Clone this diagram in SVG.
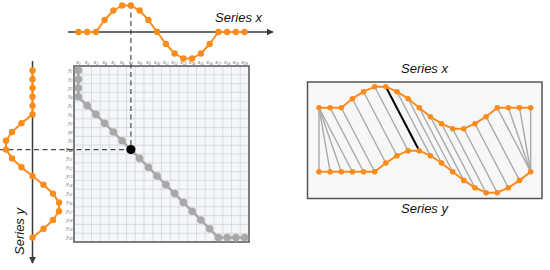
<svg xmlns="http://www.w3.org/2000/svg" width="550" height="270" viewBox="0 0 550 270">
<style>
.ser{fill:none;stroke:#fb8c1c;stroke-width:2;stroke-linejoin:round}
.od{fill:#fb8c1c}
.ax{stroke:#3a3a3a;stroke-width:1.5;fill:none}
.dash{stroke:#4a4a4a;stroke-width:1.2;stroke-dasharray:5 3.5;fill:none}
.lbl{font-family:"Liberation Sans",Arial,sans-serif;font-style:italic;font-size:13px;fill:#111}
.tick{font-family:"Liberation Serif","Times New Roman",serif;font-style:italic;font-size:5.5px;fill:#555}
.sub{font-size:3.8px}
.grid{stroke:#cdd1d7;stroke-width:0.7;fill:none}
.link{stroke:#a9a9a9;stroke-width:1.4}
.gp{fill:none;stroke:#a8a8a8;stroke-width:2.4;stroke-linejoin:round}
.gd{fill:#a8a8a8}
</style>
<defs>
<marker id="arr" viewBox="0 0 10 10" refX="9" refY="5" markerWidth="7" markerHeight="7" markerUnits="userSpaceOnUse" orient="auto">
<path d="M0,0 L10,5 L0,10 Z" fill="#3a3a3a"/>
</marker>
</defs>

<g id="alignment-panel">
<rect x="307.5" y="82" width="234.5" height="116.5" fill="#f6f7f9" stroke="#555" stroke-width="1.5"/>
<text class="lbl" x="424.5" y="73" text-anchor="middle">Series x</text>
<text class="lbl" x="424.5" y="213" text-anchor="middle">Series y</text>
</g>

<g id="matrix">
<rect x="74" y="66" width="175" height="176" fill="#f4f6f9"/>
<path class="grid" d="M82.75,66V242M91.5,66V242M100.25,66V242M109,66V242M117.75,66V242M126.5,66V242M135.25,66V242M144,66V242M152.75,66V242M161.5,66V242M170.25,66V242M179,66V242M187.75,66V242M196.5,66V242M205.25,66V242M214,66V242M222.75,66V242M231.5,66V242M240.25,66V242M74,74.8H249M74,83.6H249M74,92.4H249M74,101.2H249M74,110H249M74,118.8H249M74,127.6H249M74,136.4H249M74,145.2H249M74,154H249M74,162.8H249M74,171.6H249M74,180.4H249M74,189.2H249M74,198H249M74,206.8H249M74,215.6H249M74,224.4H249M74,233.2H249"/>
<rect x="74" y="66" width="175" height="176" fill="none" stroke="#555" stroke-width="1.5"/>
<g class="tick" text-anchor="middle">
<text x="78.38" y="64">x<tspan class="sub" dy="0.8">1</tspan></text>
<text x="87.13" y="64">x<tspan class="sub" dy="0.8">2</tspan></text>
<text x="95.88" y="64">x<tspan class="sub" dy="0.8">3</tspan></text>
<text x="104.63" y="64">x<tspan class="sub" dy="0.8">4</tspan></text>
<text x="113.38" y="64">x<tspan class="sub" dy="0.8">5</tspan></text>
<text x="122.13" y="64">x<tspan class="sub" dy="0.8">6</tspan></text>
<text x="130.88" y="64">x<tspan class="sub" dy="0.8">7</tspan></text>
<text x="139.63" y="64">x<tspan class="sub" dy="0.8">8</tspan></text>
<text x="148.38" y="64">x<tspan class="sub" dy="0.8">9</tspan></text>
<text x="157.13" y="64">x<tspan class="sub" dy="0.8">10</tspan></text>
<text x="165.88" y="64">x<tspan class="sub" dy="0.8">11</tspan></text>
<text x="174.63" y="64">x<tspan class="sub" dy="0.8">12</tspan></text>
<text x="183.38" y="64">x<tspan class="sub" dy="0.8">13</tspan></text>
<text x="192.13" y="64">x<tspan class="sub" dy="0.8">14</tspan></text>
<text x="200.88" y="64">x<tspan class="sub" dy="0.8">15</tspan></text>
<text x="209.63" y="64">x<tspan class="sub" dy="0.8">16</tspan></text>
<text x="218.38" y="64">x<tspan class="sub" dy="0.8">17</tspan></text>
<text x="227.13" y="64">x<tspan class="sub" dy="0.8">18</tspan></text>
<text x="235.88" y="64">x<tspan class="sub" dy="0.8">19</tspan></text>
<text x="244.63" y="64">x<tspan class="sub" dy="0.8">20</tspan></text>
</g>
<g class="tick" text-anchor="end">
<text x="72.5" y="72">y<tspan class="sub" dy="0.8">1</tspan></text>
<text x="72.5" y="80.8">y<tspan class="sub" dy="0.8">2</tspan></text>
<text x="72.5" y="89.6">y<tspan class="sub" dy="0.8">3</tspan></text>
<text x="72.5" y="98.4">y<tspan class="sub" dy="0.8">4</tspan></text>
<text x="72.5" y="107.2">y<tspan class="sub" dy="0.8">5</tspan></text>
<text x="72.5" y="116">y<tspan class="sub" dy="0.8">6</tspan></text>
<text x="72.5" y="124.8">y<tspan class="sub" dy="0.8">7</tspan></text>
<text x="72.5" y="133.6">y<tspan class="sub" dy="0.8">8</tspan></text>
<text x="72.5" y="142.4">y<tspan class="sub" dy="0.8">9</tspan></text>
<text x="72.5" y="151.2" font-weight="bold" fill="#111">y<tspan class="sub" dy="0.8">10</tspan></text>
<text x="72.5" y="160">y<tspan class="sub" dy="0.8">11</tspan></text>
<text x="72.5" y="168.8">y<tspan class="sub" dy="0.8">12</tspan></text>
<text x="72.5" y="177.6">y<tspan class="sub" dy="0.8">13</tspan></text>
<text x="72.5" y="186.4">y<tspan class="sub" dy="0.8">14</tspan></text>
<text x="72.5" y="195.2">y<tspan class="sub" dy="0.8">15</tspan></text>
<text x="72.5" y="204">y<tspan class="sub" dy="0.8">16</tspan></text>
<text x="72.5" y="212.8">y<tspan class="sub" dy="0.8">17</tspan></text>
<text x="72.5" y="221.6">y<tspan class="sub" dy="0.8">18</tspan></text>
<text x="72.5" y="230.4">y<tspan class="sub" dy="0.8">19</tspan></text>
<text x="72.5" y="239.2">y<tspan class="sub" dy="0.8">20</tspan></text>
</g>
</g>

<g id="connectors">
<path class="dash" d="M130.88,4V149.6"/>
<path class="dash" d="M0,149.6H130.88"/>
<g class="link">
<line x1="319" y1="107.7" x2="319" y2="171.7"/>
<line x1="319" y1="107.7" x2="330.14" y2="171.7"/>
<line x1="319" y1="107.7" x2="341.28" y2="171.7"/>
<line x1="319" y1="107.7" x2="352.42" y2="171.7"/>
<line x1="330.14" y1="107.7" x2="363.56" y2="171.7"/>
<line x1="341.28" y1="107.7" x2="374.7" y2="171.7"/>
<line x1="352.42" y1="98.7" x2="385.84" y2="163"/>
<line x1="363.56" y1="91.7" x2="396.98" y2="155.7"/>
<line x1="374.7" y1="86.7" x2="408.12" y2="150.7"/>
<line x1="396.98" y1="91.7" x2="430.4" y2="155.7"/>
<line x1="408.12" y1="98.7" x2="441.54" y2="163"/>
<line x1="419.26" y1="107.7" x2="452.68" y2="171.7"/>
<line x1="430.4" y1="116.7" x2="463.82" y2="180.4"/>
<line x1="441.54" y1="123.7" x2="474.96" y2="187.7"/>
<line x1="452.68" y1="128.7" x2="486.1" y2="192.7"/>
<line x1="463.82" y1="128.7" x2="497.24" y2="192.7"/>
<line x1="474.96" y1="123.7" x2="508.38" y2="187.7"/>
<line x1="486.1" y1="116.7" x2="519.52" y2="180.4"/>
<line x1="497.24" y1="107.7" x2="530.66" y2="171.7"/>
<line x1="508.38" y1="107.7" x2="530.66" y2="171.7"/>
<line x1="519.52" y1="107.7" x2="530.66" y2="171.7"/>
<line x1="530.66" y1="107.7" x2="530.66" y2="171.7"/>
</g>
<line x1="385.84" y1="86.7" x2="419.26" y2="150.7" stroke="#000" stroke-width="2"/>
</g>

<g id="warp-path">
<polyline class="gp" points="78.38,70.4 78.38,79.2 78.38,88 78.38,96.8 87.13,105.6 95.88,114.4 104.63,123.2 113.38,132 122.13,140.8 130.88,149.6 139.63,158.4 148.38,167.2 157.13,176 165.88,184.8 174.63,193.6 183.38,202.4 192.13,211.2 200.88,220 209.63,228.8 218.38,237.6 227.13,237.6 235.88,237.6 244.63,237.6"/>
<g class="gd">
<circle cx="78.38" cy="70.4" r="3.8"/><circle cx="78.38" cy="79.2" r="3.8"/><circle cx="78.38" cy="88" r="3.8"/><circle cx="78.38" cy="96.8" r="3.8"/>
<circle cx="87.13" cy="105.6" r="3.8"/><circle cx="95.88" cy="114.4" r="3.8"/><circle cx="104.63" cy="123.2" r="3.8"/><circle cx="113.38" cy="132" r="3.8"/><circle cx="122.13" cy="140.8" r="3.8"/>
<circle cx="139.63" cy="158.4" r="3.8"/><circle cx="148.38" cy="167.2" r="3.8"/><circle cx="157.13" cy="176" r="3.8"/><circle cx="165.88" cy="184.8" r="3.8"/><circle cx="174.63" cy="193.6" r="3.8"/><circle cx="183.38" cy="202.4" r="3.8"/><circle cx="192.13" cy="211.2" r="3.8"/><circle cx="200.88" cy="220" r="3.8"/><circle cx="209.63" cy="228.8" r="3.8"/>
<circle cx="218.38" cy="237.6" r="3.8"/><circle cx="227.13" cy="237.6" r="3.8"/><circle cx="235.88" cy="237.6" r="3.8"/><circle cx="244.63" cy="237.6" r="3.8"/>
</g>
<circle cx="130.88" cy="149.6" r="4.6" fill="#000"/>
</g>

<g id="series-x">
<line class="ax" x1="68" y1="32" x2="273" y2="32" marker-end="url(#arr)"/>
<polyline class="ser" points="78.38,32 87.13,32 95.88,32 104.63,20 113.38,10.5 122.13,5.5 130.88,5.5 139.63,10.5 148.38,20 157.13,32 165.88,44 174.63,53.5 183.38,58.5 192.13,58.5 200.88,53.5 209.63,44 218.38,32 227.13,32 235.88,32 244.63,32"/>
<g class="od">
<circle cx="78.38" cy="32" r="3.2"/><circle cx="87.13" cy="32" r="3.2"/><circle cx="95.88" cy="32" r="3.2"/><circle cx="104.63" cy="20" r="3.2"/><circle cx="113.38" cy="10.5" r="3.2"/><circle cx="122.13" cy="5.5" r="3.2"/><circle cx="130.88" cy="5.5" r="3.2"/><circle cx="139.63" cy="10.5" r="3.2"/><circle cx="148.38" cy="20" r="3.2"/><circle cx="157.13" cy="32" r="3.2"/><circle cx="165.88" cy="44" r="3.2"/><circle cx="174.63" cy="53.5" r="3.2"/><circle cx="183.38" cy="58.5" r="3.2"/><circle cx="192.13" cy="58.5" r="3.2"/><circle cx="200.88" cy="53.5" r="3.2"/><circle cx="209.63" cy="44" r="3.2"/><circle cx="218.38" cy="32" r="3.2"/><circle cx="227.13" cy="32" r="3.2"/><circle cx="235.88" cy="32" r="3.2"/><circle cx="244.63" cy="32" r="3.2"/>
</g>
<text class="lbl" x="262" y="21.5" text-anchor="end">Series x</text>
</g>

<g id="series-y">
<line class="ax" x1="32.5" y1="61" x2="32.5" y2="263" marker-end="url(#arr)"/>
<polyline class="ser" points="32.5,70.4 32.5,79.2 32.5,88 32.5,96.8 32.5,105.6 32.5,114.4 21.5,123.2 12,132 6,140.8 6,149.6 12,158.4 21.5,167.2 32.5,176 43.5,184.8 53,193.6 59,202.4 59,211.2 53,220 43.5,228.8 32.5,237.6"/>
<g class="od">
<circle cx="32.5" cy="70.4" r="3.2"/><circle cx="32.5" cy="79.2" r="3.2"/><circle cx="32.5" cy="88" r="3.2"/><circle cx="32.5" cy="96.8" r="3.2"/><circle cx="32.5" cy="105.6" r="3.2"/><circle cx="32.5" cy="114.4" r="3.2"/><circle cx="21.5" cy="123.2" r="3.2"/><circle cx="12" cy="132" r="3.2"/><circle cx="6" cy="140.8" r="3.2"/><circle cx="6" cy="149.6" r="3.2"/><circle cx="12" cy="158.4" r="3.2"/><circle cx="21.5" cy="167.2" r="3.2"/><circle cx="32.5" cy="176" r="3.2"/><circle cx="43.5" cy="184.8" r="3.2"/><circle cx="53" cy="193.6" r="3.2"/><circle cx="59" cy="202.4" r="3.2"/><circle cx="59" cy="211.2" r="3.2"/><circle cx="53" cy="220" r="3.2"/><circle cx="43.5" cy="228.8" r="3.2"/><circle cx="32.5" cy="237.6" r="3.2"/>
</g>
<text class="lbl" transform="translate(24,231.5) rotate(-90)" text-anchor="middle">Series y</text>
</g>

<g id="panel-series-x">
<polyline class="ser" points="319,107.7 330.14,107.7 341.28,107.7 352.42,98.7 363.56,91.7 374.7,86.7 385.84,86.7 396.98,91.7 408.12,98.7 419.26,107.7 430.4,116.7 441.54,123.7 452.68,128.7 463.82,128.7 474.96,123.7 486.1,116.7 497.24,107.7 508.38,107.7 519.52,107.7 530.66,107.7"/>
<g class="od">
<circle cx="319" cy="107.7" r="2.8"/><circle cx="330.14" cy="107.7" r="2.8"/><circle cx="341.28" cy="107.7" r="2.8"/><circle cx="352.42" cy="98.7" r="2.8"/><circle cx="363.56" cy="91.7" r="2.8"/><circle cx="374.7" cy="86.7" r="2.8"/><circle cx="385.84" cy="86.7" r="2.8"/><circle cx="396.98" cy="91.7" r="2.8"/><circle cx="408.12" cy="98.7" r="2.8"/><circle cx="419.26" cy="107.7" r="2.8"/><circle cx="430.4" cy="116.7" r="2.8"/><circle cx="441.54" cy="123.7" r="2.8"/><circle cx="452.68" cy="128.7" r="2.8"/><circle cx="463.82" cy="128.7" r="2.8"/><circle cx="474.96" cy="123.7" r="2.8"/><circle cx="486.1" cy="116.7" r="2.8"/><circle cx="497.24" cy="107.7" r="2.8"/><circle cx="508.38" cy="107.7" r="2.8"/><circle cx="519.52" cy="107.7" r="2.8"/><circle cx="530.66" cy="107.7" r="2.8"/>
</g>
</g>

<g id="panel-series-y">
<polyline class="ser" points="319,171.7 330.14,171.7 341.28,171.7 352.42,171.7 363.56,171.7 374.7,171.7 385.84,163 396.98,155.7 408.12,150.7 419.26,150.7 430.4,155.7 441.54,163 452.68,171.7 463.82,180.4 474.96,187.7 486.1,192.7 497.24,192.7 508.38,187.7 519.52,180.4 530.66,171.7"/>
<g class="od">
<circle cx="319" cy="171.7" r="2.8"/><circle cx="330.14" cy="171.7" r="2.8"/><circle cx="341.28" cy="171.7" r="2.8"/><circle cx="352.42" cy="171.7" r="2.8"/><circle cx="363.56" cy="171.7" r="2.8"/><circle cx="374.7" cy="171.7" r="2.8"/><circle cx="385.84" cy="163" r="2.8"/><circle cx="396.98" cy="155.7" r="2.8"/><circle cx="408.12" cy="150.7" r="2.8"/><circle cx="419.26" cy="150.7" r="2.8"/><circle cx="430.4" cy="155.7" r="2.8"/><circle cx="441.54" cy="163" r="2.8"/><circle cx="452.68" cy="171.7" r="2.8"/><circle cx="463.82" cy="180.4" r="2.8"/><circle cx="474.96" cy="187.7" r="2.8"/><circle cx="486.1" cy="192.7" r="2.8"/><circle cx="497.24" cy="192.7" r="2.8"/><circle cx="508.38" cy="187.7" r="2.8"/><circle cx="519.52" cy="180.4" r="2.8"/><circle cx="530.66" cy="171.7" r="2.8"/>
</g>
</g>
</svg>
